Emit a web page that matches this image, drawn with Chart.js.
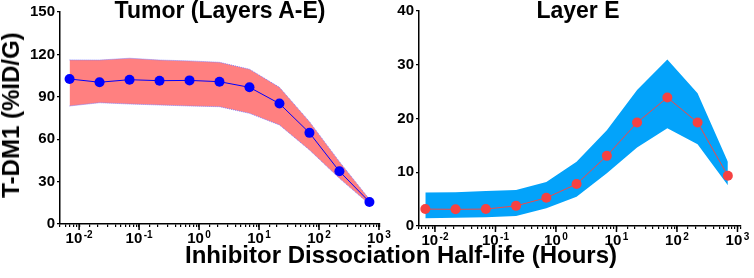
<!DOCTYPE html>
<html>
<head>
<meta charset="utf-8">
<script src="https://cdn.jsdelivr.net/npm/chart.js@4.4.1/dist/chart.umd.min.js"></script>
<style>
  html, body { margin: 0; padding: 0; background: #fff; overflow: hidden; width: 754px; height: 278px; }
  #wrap { position: relative; width: 754px; height: 278px; font-family: "Liberation Sans", Arial, sans-serif; font-weight: bold; color: #000; }
  canvas { position: absolute; top: 0; }
  .lbl { position: absolute; white-space: nowrap; line-height: 1; }
</style>
</head>
<body>
<div id="wrap">
  <canvas id="tumor" width="400" height="278" style="left:0;width:400px;height:278px"></canvas>
  <canvas id="layerE" width="374" height="278" style="left:380px;width:374px;height:278px"></canvas>
  <div class="lbl" style="left:220px;top:-1px;font-size:23px;transform:translateX(-50%)">Tumor (Layers A-E)</div>
  <div class="lbl" style="left:578px;top:-1px;font-size:23px;transform:translateX(-50%)">Layer E</div>
  <div class="lbl" style="left:401px;top:243px;font-size:24px;transform:translateX(-50%)">Inhibitor Dissociation Half-life (Hours)</div>
  <div class="lbl" style="left:11px;top:115px;font-size:24px;transform:translate(-50%,-50%) rotate(-90deg)">T-DM1 (%ID/G)</div>
</div>
<script>
// half-life (hours) for each simulated inhibitor
const halfLifeHours = [0.00693, 0.0219, 0.0693, 0.219, 0.693, 2.19, 6.93, 21.9, 69.3, 219, 693];

// Tumor (layers A-E)
const tumorMean  = [102.6, 100.3, 102.1, 101.4, 101.6, 100.7, 96.7, 85.2, 64.5, 37.3, 15.6];
const tumorUpper = [116.1, 116.0, 117.3, 116.0, 115.4, 114.4, 109.5, 96.7, 72.4, 44.1, 17.5];
const tumorLower = [83.5, 85.8, 84.9, 84.2, 83.5, 83.0, 78.3, 70.1, 52.4, 32.3, 14.0];

// Layer E
const layerEMean  = [3.15, 3.1, 3.15, 3.75, 5.25, 7.8, 13.05, 19.25, 23.9, 19.25, 9.35];
const layerEUpper = [6.25, 6.3, 6.5, 6.7, 8.2, 11.95, 17.8, 25.3, 31.0, 24.7, 11.95];
const layerELower = [1.45, 1.55, 1.65, 1.85, 3.3, 5.45, 9.8, 14.6, 18.2, 15.2, 7.6];

// axis ticks
const xTickPowers = [-2, -1, 0, 1, 2, 3];
const xTickExponents = ['-2', '-1', '0', '1', '2', '3'];
const tumorYTicks = [0, 30, 60, 90, 120, 150];
const layerEYTicks = [0, 10, 20, 30, 40];

const FONT = '"Liberation Sans", Arial, sans-serif';

const toPoints = (ys) => ys.map((y, i) => ({ x: halfLifeHours[i], y }));

// decade ticks: longer marks plus "10" with a raised exponent
const decadeLabels = {
  id: 'decadeLabels',
  afterDraw(chart) {
    const { ctx } = chart;
    const x = chart.scales.x;
    ctx.save();
    ctx.strokeStyle = '#000';
    ctx.fillStyle = '#000';
    ctx.lineWidth = 1.5;
    ctx.textBaseline = 'alphabetic';
    ctx.textAlign = 'left';
    xTickPowers.forEach((p, i) => {
      const px = x.getPixelForValue(Math.pow(10, p));
      ctx.beginPath();
      ctx.moveTo(px, x.top);
      ctx.lineTo(px, x.top + 6);
      ctx.stroke();

      ctx.font = `bold 15px ${FONT}`;
      const w1 = ctx.measureText('10').width;
      ctx.font = `bold 10px ${FONT}`;
      const w2 = ctx.measureText(xTickExponents[i]).width;
      const start = px - (w1 + 1.5 + w2) / 2;
      ctx.font = `bold 15px ${FONT}`;
      ctx.fillText('10', start, x.top + 18.5);
      ctx.font = `bold 10px ${FONT}`;
      ctx.fillText(xTickExponents[i], start + w1 + 1.5, x.top + 13.5);
    });
    ctx.restore();
  }
};

function makeChart(id, cfg) {
  const ctx = document.getElementById(id).getContext('2d');
  return new Chart(ctx, {
    type: 'line',
    data: {
      datasets: [
        {
          data: toPoints(cfg.mean),
          borderColor: cfg.lineColor,
          borderWidth: 1,
          pointRadius: 5,
          pointBackgroundColor: cfg.pointColor,
          pointBorderWidth: 0,
          tension: 0
        },
        {
          data: toPoints(cfg.lower),
          borderColor: cfg.bandEdge,
          borderWidth: cfg.bandEdgeWidth,
          borderDash: [1, 1],
          pointRadius: 0,
          fill: false,
          tension: 0
        },
        {
          data: toPoints(cfg.upper),
          borderColor: cfg.bandEdge,
          borderWidth: cfg.bandEdgeWidth,
          borderDash: [1, 1],
          pointRadius: 0,
          backgroundColor: cfg.bandColor,
          fill: '-1',
          tension: 0
        }
      ]
    },
    options: {
      responsive: false,
      animation: false,
      layout: { padding: cfg.padding },
      plugins: { legend: { display: false }, tooltip: { enabled: false } },
      scales: {
        x: {
          type: 'logarithmic',
          min: cfg.xMin,
          max: cfg.xMax,
          border: { display: true, color: '#000', width: 1.5 },
          grid: { drawOnChartArea: false, drawTicks: true, tickLength: 3, color: '#000', lineWidth: 1.2 },
          ticks: {
            autoSkip: false,
            maxRotation: 0,
            font: { family: FONT, size: 15, weight: 'bold' },
            callback: () => ''   // decade labels drawn by decadeLabels
          },
          afterFit: (scale) => { scale.height = cfg.xAxisHeight; }
        },
        y: {
          min: cfg.yTicks[0],
          max: cfg.yTicks[cfg.yTicks.length - 1],
          border: { display: true, color: '#000', width: 1.5 },
          grid: { drawOnChartArea: false, drawTicks: true, tickLength: 3, color: '#000', lineWidth: 1.2 },
          ticks: {
            padding: 2,
            color: '#000',
            font: { family: FONT, size: 15, weight: 'bold' }
          },
          afterBuildTicks: (scale) => { scale.ticks = cfg.yTicks.map(v => ({ value: v })); },
          afterFit: (scale) => { scale.width = cfg.yAxisWidth; }
        }
      }
    },
    plugins: [decadeLabels]
  });
}

makeChart('tumor', {
  mean: tumorMean, upper: tumorUpper, lower: tumorLower,
  lineColor: '#0000FF', pointColor: '#0000FF',
  bandColor: '#FF8080', bandEdge: 'rgba(120,120,255,0.9)', bandEdgeWidth: 1,
  yTicks: tumorYTicks,
  xMin: 0.0048, xMax: 1040,
  padding: { left: 0, top: 12, right: 20, bottom: 0 },
  yAxisWidth: 60, xAxisHeight: 54
});

makeChart('layerE', {
  mean: layerEMean, upper: layerEUpper, lower: layerELower,
  lineColor: '#F04848', pointColor: '#F54242',
  bandColor: '#03A3FA', bandEdge: '#03A3FA', bandEdgeWidth: 0,
  yTicks: layerEYTicks,
  xMin: 0.00545, xMax: 1143,
  padding: { left: 0, top: 11, right: 13, bottom: 0 },
  yAxisWidth: 39, xAxisHeight: 52
});
</script>
</body>
</html>
